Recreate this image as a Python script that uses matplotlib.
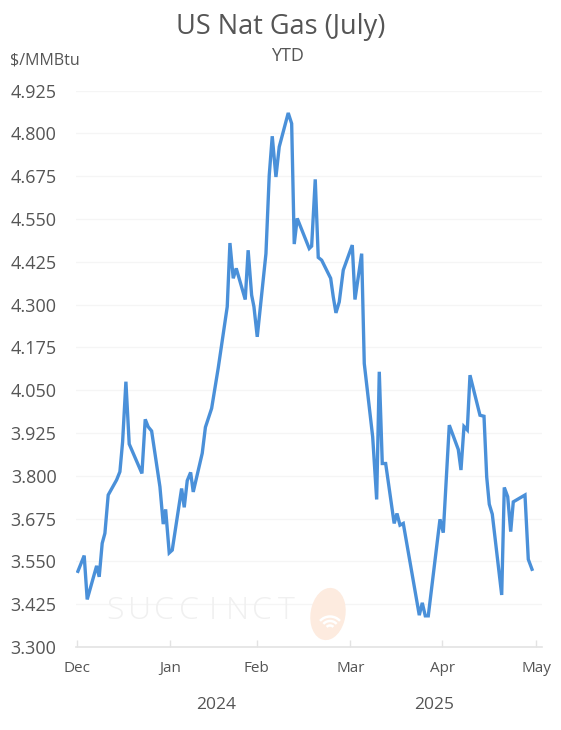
import matplotlib
matplotlib.use("Agg")
import matplotlib.pyplot as plt
from matplotlib.patches import Ellipse, Arc
import numpy as np

plt.rcParams['font.family'] = ['Open Sans', 'DejaVu Sans']

# x position (days from Dec tick) and price ($/MMBtu)
day = [0.43, 2.53, 3.53, 6.67, 7.53, 8.53, 9.43, 10.53, 13.33, 14.43, 15.33, 16.43, 17.53,
       21.77, 22.87, 23.87, 25.0, 27.77, 28.87, 29.67, 30.87, 31.87, 35.0, 35.87, 36.87,
       38.0, 38.87, 41.87, 42.93, 45.0, 47.2, 50.2, 51.1, 52.2, 53.2, 56.2, 57.17, 58.33,
       59.1, 60.2, 63.1, 64.2, 65.2, 66.43, 67.53, 70.53, 71.67, 72.53, 73.53, 77.53, 78.33,
       79.53, 80.53, 81.67, 84.67, 85.53, 86.43, 87.53, 88.87, 91.87, 92.77, 95.0, 95.87,
       98.67, 100.0, 100.87, 101.87, 103.0, 105.83, 106.77, 107.77, 108.87, 114.2, 115.2,
       116.2, 117.2, 121.1, 122.2, 124.2, 127.2, 128.1, 129.1, 130.2, 131.1, 134.43, 135.77,
       136.67, 137.53, 138.53, 141.67, 142.53, 143.67, 144.67, 145.53, 149.43, 150.53, 151.77]
price = [3.521, 3.567, 3.439, 3.537, 3.505, 3.603, 3.632, 3.744, 3.788, 3.812, 3.899, 4.075, 3.893,
         3.807, 3.965, 3.943, 3.931, 3.768, 3.659, 3.702, 3.575, 3.583, 3.763, 3.708, 3.786,
         3.810, 3.753, 3.866, 3.942, 3.997, 4.115, 4.294, 4.480, 4.377, 4.406, 4.315, 4.459, 4.328,
         4.294, 4.206, 4.449, 4.678, 4.792, 4.673, 4.761, 4.860, 4.829, 4.477, 4.552, 4.464, 4.471,
         4.666, 4.438, 4.430, 4.377, 4.323, 4.276, 4.308, 4.401, 4.474, 4.315, 4.449, 4.128,
         3.914, 3.731, 4.104, 3.836, 3.836, 3.661, 3.690, 3.656, 3.661, 3.393, 3.429,
         3.391, 3.391, 3.673, 3.634, 3.948, 3.877, 3.817, 3.944, 3.934, 4.094, 3.977, 3.974,
         3.797, 3.717, 3.688, 3.452, 3.766, 3.739, 3.637, 3.724, 3.744, 3.556, 3.527]

month_labels = ['Dec', 'Jan', 'Feb', 'Mar', 'Apr', 'May']
month_pos = [0, 31.2, 60.0, 91.2, 121.9, 153.2]
year_labels = ['2024', '2025']
year_pos = [46.5, 119.3]
y_ticks = [3.300, 3.425, 3.550, 3.675, 3.800, 3.925, 4.050, 4.175, 4.300, 4.425, 4.550, 4.675, 4.800, 4.925]

W, H = 561, 730
fig = plt.figure(figsize=(W/100, H/100), dpi=100)
ax = fig.add_axes([76/W, 1-647/H, (542-76)/W, (647-90.7)/H])

# watermark
for i, ch in enumerate('SUCCINCT'):
    fig.text((115 + i*24.5)/W, 1-611/H, ch, fontsize=23, color='#f0f0f0',
             ha='center', va='center', zorder=0, fontweight='light')
logo = Ellipse((328/W, 1-614/H), 33/W, 52/H, angle=-22, color='#fdebdf',
               transform=fig.transFigure, zorder=0)
fig.patches.append(logo)
for i, d in enumerate([27, 18, 9]):
    arc = Arc((330/W, 1-630/H), d/W, d/H, theta1=35, theta2=145,
              color='white', lw=1.8, transform=fig.transFigure, zorder=0)
    fig.patches.append(arc)

ax.plot(day, price, color='#4a90d9', lw=2.4, solid_joinstyle='miter', zorder=3)

ax.set_xlim(-0.2, 155.1)
ax.set_ylim(3.300, 4.925)
ax.set_yticks(y_ticks)
ax.set_yticklabels([f'{v:.3f}' for v in y_ticks])
ax.set_xticks(month_pos)
ax.set_xticklabels(month_labels)

ax.grid(axis='y', color='#f5f5f5', lw=1)
ax.set_axisbelow(True)
for s in ['top', 'right', 'left']:
    ax.spines[s].set_visible(False)
ax.spines['bottom'].set_color('#e3e3e3')
ax.spines['bottom'].set_linewidth(1.2)
ax.patch.set_alpha(0)

ax.tick_params(axis='y', length=0, pad=14, labelsize=13, labelcolor='#555555')
ax.tick_params(axis='x', direction='in', length=5, color='#e3e3e3', width=1,
               pad=10, labelsize=11, labelcolor='#555555')

for lab, p in zip(year_labels, year_pos):
    ax.text(p, -0.105, lab, transform=ax.get_xaxis_transform(), ha='center', va='center',
            fontsize=12.5, color='#555555')

fig.text(281/W, 1-27/H, 'US Nat Gas (July)', ha='center', va='center', fontsize=19.5, color='#555555')
fig.text(287/W, 1-56/H, 'YTD', ha='center', va='center', fontsize=13, color='#555555')
fig.text(10/W, 1-61/H, '$/MMBtu', ha='left', va='center', fontsize=11.5, color='#555555')

fig.savefig('out.png', dpi=100)
